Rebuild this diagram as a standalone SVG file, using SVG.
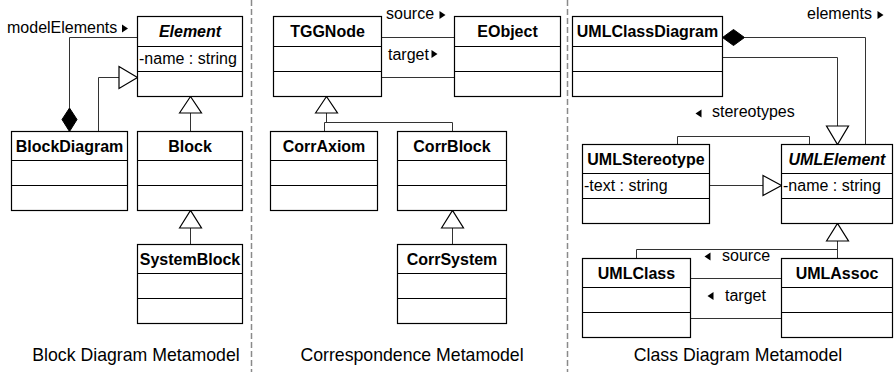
<svg xmlns="http://www.w3.org/2000/svg" width="896" height="372" viewBox="0 0 896 372">
<style>
text{font-family:"Liberation Sans",Arial,sans-serif;fill:#000}
.box{fill:#fff;stroke:#000;stroke-width:1.2}
.sep{fill:none;stroke:#000;stroke-width:1.2}
.t{font-size:16px;font-weight:bold;text-anchor:middle}
.ti{font-size:16px;font-weight:bold;font-style:italic;text-anchor:middle}
.a{font-size:16px}
.lbl{font-size:16px}
.cap{font-size:17.7px;text-anchor:middle}
.con{fill:none;stroke:#333;stroke-width:1}
.gen{fill:#fff;stroke:#000;stroke-width:1.2}
.dia{fill:#000;stroke:#000;stroke-width:1}
.arr{fill:#000}
.div{stroke:#8a8a8a;stroke-width:1.5;stroke-dasharray:6 3}
</style>

<g id="dividers">
<line class="div" x1="251.5" y1="0" x2="251.5" y2="372"/>
<line class="div" x1="567.5" y1="0" x2="567.5" y2="372"/>
</g>

<g id="connectors">
<!-- left panel -->
<path class="con" d="M137.5 37.5 H69.5 V108"/>
<polygon class="dia" points="69.5,108 77,119.5 69.5,131.5 62,119.5"/>
<path class="con" d="M98.5 131.5 V77.5 H119"/>
<polygon class="gen" points="119,66.5 137.5,77.5 119,88.5"/>
<path class="con" d="M190.5 113 V131.5"/>
<polygon class="gen" points="179.5,113 190.5,96.5 201.5,113"/>
<path class="con" d="M190.5 228 V244.5"/>
<polygon class="gen" points="179.5,228 190.5,210.5 201.5,228"/>
<!-- middle panel -->
<path class="con" d="M381.5 37.5 H454.5"/>
<path class="con" d="M381.5 77.5 H454.5"/>
<path class="con" d="M326.5 113 V122.5 M324.5 131.5 V122.5 H452.5 V131.5"/>
<polygon class="gen" points="315.5,113 326.5,96.5 337.5,113"/>
<path class="con" d="M452.5 228 V244.5"/>
<polygon class="gen" points="441.5,228 452.5,210.5 463.5,228"/>
<!-- right panel -->
<path class="con" d="M744.5 37.5 H865.5 V144.5"/>
<polygon class="dia" points="722.5,37.5 733.5,29.5 744.5,37.5 733.5,45.5"/>
<path class="con" d="M722.5 57.5 H837.5 V126"/>
<polygon class="gen" points="826.5,126 848.5,126 837.5,144.5"/>
<path class="con" d="M677.5 144.5 V136.5 H809.5 V144.5"/>
<path class="con" d="M709.5 185.5 H763"/>
<polygon class="gen" points="763,175.5 781.5,185.5 763,195.5"/>
<path class="con" d="M837.5 241 V258.5 M837.5 249.5 H636.5 V258.5"/>
<polygon class="gen" points="826.5,241 837.5,223.5 848.5,241"/>
<path class="con" d="M690.5 278.5 H781.5"/>
<path class="con" d="M690.5 318.5 H781.5"/>
</g>

<g id="labels">
<text class="lbl" x="7" y="33">modelElements</text>
<polygon class="arr" points="122,24.5 128,28.5 122,32.5"/>
<text class="lbl" x="386" y="19">source</text>
<polygon class="arr" points="439.5,11 445.5,15 439.5,19"/>
<text class="lbl" x="388" y="60">target</text>
<polygon class="arr" points="431.5,50 437.5,54 431.5,58"/>
<text class="lbl" x="807" y="19">elements</text>
<polygon class="arr" points="877.5,11 883.5,15 877.5,19"/>
<text class="lbl" x="712" y="117">stereotypes</text>
<polygon class="arr" points="701.5,109.5 695.5,113.5 701.5,117.5"/>
<text class="lbl" x="722" y="261">source</text>
<polygon class="arr" points="710.5,252.5 704.5,256.5 710.5,260.5"/>
<text class="lbl" x="725" y="301">target</text>
<polygon class="arr" points="713.5,292 707.5,296 713.5,300"/>
</g>

<g id="Element">
<rect class="box" x="137.5" y="16.5" width="105" height="80"/>
<path class="sep" d="M137.5 46.5 H242.5 M137.5 71.5 H242.5"/>
<text class="ti" x="190" y="37">Element</text>
<text class="a" x="139" y="64">-name : string</text>
</g>
<g id="BlockDiagram">
<rect class="box" x="11.5" y="131.5" width="116" height="79"/>
<path class="sep" d="M11.5 160.5 H127.5 M11.5 185.5 H127.5"/>
<text class="t" x="69.5" y="152">BlockDiagram</text>
</g>
<g id="Block">
<rect class="box" x="137.5" y="131.5" width="105" height="79"/>
<path class="sep" d="M137.5 160.5 H242.5 M137.5 185.5 H242.5"/>
<text class="t" x="190" y="152">Block</text>
</g>
<g id="SystemBlock">
<rect class="box" x="137.5" y="244.5" width="105" height="79"/>
<path class="sep" d="M137.5 273.5 H242.5 M137.5 298.5 H242.5"/>
<text class="t" x="190" y="265">SystemBlock</text>
</g>

<g id="TGGNode">
<rect class="box" x="273.5" y="16.5" width="108" height="80"/>
<path class="sep" d="M273.5 46.5 H381.5 M273.5 71.5 H381.5"/>
<text class="t" x="327.5" y="37">TGGNode</text>
</g>
<g id="EObject">
<rect class="box" x="454.5" y="16.5" width="106" height="80"/>
<path class="sep" d="M454.5 46.5 H560.5 M454.5 71.5 H560.5"/>
<text class="t" x="507.5" y="37">EObject</text>
</g>
<g id="CorrAxiom">
<rect class="box" x="270.5" y="131.5" width="107" height="79"/>
<path class="sep" d="M270.5 160.5 H377.5 M270.5 185.5 H377.5"/>
<text class="t" x="324" y="152">CorrAxiom</text>
</g>
<g id="CorrBlock">
<rect class="box" x="397.5" y="131.5" width="109" height="79"/>
<path class="sep" d="M397.5 160.5 H506.5 M397.5 185.5 H506.5"/>
<text class="t" x="452" y="152">CorrBlock</text>
</g>
<g id="CorrSystem">
<rect class="box" x="397.5" y="244.5" width="109" height="79"/>
<path class="sep" d="M397.5 273.5 H506.5 M397.5 298.5 H506.5"/>
<text class="t" x="452" y="265">CorrSystem</text>
</g>

<g id="UMLClassDiagram">
<rect class="box" x="572.5" y="16.5" width="150" height="80"/>
<path class="sep" d="M572.5 46.5 H722.5 M572.5 71.5 H722.5"/>
<text class="t" x="647.5" y="37">UMLClassDiagram</text>
</g>
<g id="UMLStereotype">
<rect class="box" x="582.5" y="144.5" width="127" height="79"/>
<path class="sep" d="M582.5 173.5 H709.5 M582.5 198.5 H709.5"/>
<text class="t" x="646" y="165">UMLStereotype</text>
<text class="a" x="584" y="191">-text : string</text>
</g>
<g id="UMLElement">
<rect class="box" x="781.5" y="144.5" width="111" height="79"/>
<path class="sep" d="M781.5 173.5 H892.5 M781.5 198.5 H892.5"/>
<text class="ti" x="837" y="165">UMLElement</text>
<text class="a" x="783" y="191">-name : string</text>
</g>
<g id="UMLClass">
<rect class="box" x="582.5" y="258.5" width="108" height="79"/>
<path class="sep" d="M582.5 287.5 H690.5 M582.5 312.5 H690.5"/>
<text class="t" x="636.5" y="279">UMLClass</text>
</g>
<g id="UMLAssoc">
<rect class="box" x="781.5" y="258.5" width="111" height="79"/>
<path class="sep" d="M781.5 287.5 H892.5 M781.5 312.5 H892.5"/>
<text class="t" x="837" y="279">UMLAssoc</text>
</g>

<g id="captions">
<text class="cap" x="136" y="361">Block Diagram Metamodel</text>
<text class="cap" x="412" y="361">Correspondence Metamodel</text>
<text class="cap" x="738" y="361">Class Diagram Metamodel</text>
</g>
</svg>
